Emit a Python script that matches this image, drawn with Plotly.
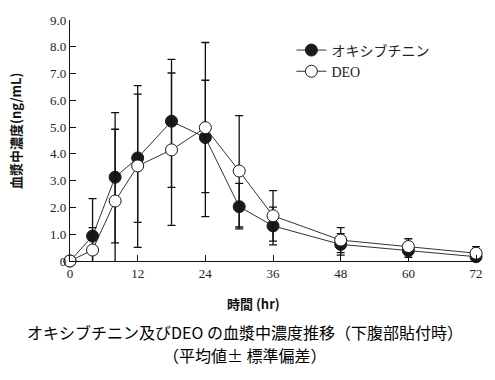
import plotly.graph_objects as go

hours = [0, 4, 8, 12, 18, 24, 30, 36, 48, 60, 72]
oxy_mean = [0, 0.93, 3.13, 3.85, 5.22, 4.61, 2.03, 1.31, 0.62, 0.39, 0.16]
oxy_sd_plus = [0, 1.40, 2.41, 2.38, 2.31, 2.14, 0.87, 0.70, 0.40, 0.25, 0.12]
oxy_sd_minus = [0, 1.40, 2.45, 2.41, 2.47, 2.06, 0.83, 0.71, 0.40, 0.25, 0.12]
deo_mean = [0, 0.41, 2.24, 3.55, 4.15, 4.98, 3.36, 1.69, 0.78, 0.54, 0.29]
deo_sd_plus = [0, 0.84, 2.68, 3.00, 2.87, 3.18, 2.07, 0.94, 0.47, 0.29, 0.25]
deo_sd_minus = [0, 0.84, 2.68, 3.04, 2.82, 3.32, 2.09, 0.95, 0.47, 0.29, 0.25]
y_ticks = [0, 1, 2, 3, 4, 5, 6, 7, 8, 9]
y_tick_labels = ["0", "1.0", "2.0", "3.0", "4.0", "5.0", "6.0", "7.0", "8.0", "9.0"]
x_ticks = [0, 12, 24, 36, 48, 60, 72]

serif = "Liberation Serif, DejaVu Serif, serif"
jp = "Noto Sans CJK JP, sans-serif"

fig = go.Figure()
fig.add_trace(go.Scatter(
    x=hours, y=oxy_mean, name="オキシブチニン", mode="lines+markers",
    line=dict(color="#333333", width=1),
    marker=dict(symbol="circle", size=12, color="#1a1a1a", line=dict(color="#1a1a1a", width=1)),
    error_y=dict(type="data", array=oxy_sd_plus, arrayminus=oxy_sd_minus,
                 color="#111111", thickness=1.3, width=4),
    cliponaxis=False,
))
fig.add_trace(go.Scatter(
    x=hours, y=deo_mean, name="DEO", mode="lines+markers",
    line=dict(color="#333333", width=1),
    marker=dict(symbol="circle", size=12, color="white", line=dict(color="#1a1a1a", width=1)),
    error_y=dict(type="data", array=deo_sd_plus, arrayminus=deo_sd_minus,
                 color="#111111", thickness=1.3, width=4),
    cliponaxis=False,
))

fig.update_layout(
    width=495, height=380,
    margin=dict(l=70, r=15, t=20, b=119),
    paper_bgcolor="white", plot_bgcolor="white",
    showlegend=True,
    legend=dict(x=0.54, y=0.94, xanchor="left", yanchor="top",
                font=dict(family=serif + ", " + jp, size=14, color="#222"),
                bgcolor="rgba(0,0,0,0)", itemwidth=30, tracegroupgap=0),
    xaxis=dict(range=[0, 72.7], tickvals=x_ticks, ticks="inside", ticklen=6,
               tickcolor="#111", showline=True, linecolor="#111", linewidth=1.3,
               showgrid=False, zeroline=False,
               tickfont=dict(family=serif, size=13, color="#222")),
    yaxis=dict(range=[0, 9], tickvals=y_ticks, ticktext=y_tick_labels, ticks="inside",
               ticklen=6, tickcolor="#111", showline=True, linecolor="#111", linewidth=1.3,
               showgrid=False, zeroline=False,
               tickfont=dict(family=serif, size=13, color="#222")),
    font=dict(family=jp, color="#111"),
)

fig.add_annotation(text="<b>血漿中濃度(ng/mL)</b>", xref="paper", yref="paper",
                   x=(15 - 70) / 410, y=(261 - 131) / 241, textangle=-90, showarrow=False,
                   xanchor="center", yanchor="middle",
                   font=dict(family=jp, size=13, color="#111"))
fig.add_annotation(text="<b>時間 (hr)</b>", xref="paper", yref="paper",
                   x=(253 - 70) / 410, y=-(303 - 261) / 241, showarrow=False,
                   xanchor="center", yanchor="middle",
                   font=dict(family=jp, size=13, color="#111"))
fig.add_annotation(text="オキシブチニン及びDEO の血漿中濃度推移（下腹部貼付時）",
                   xref="paper", yref="paper",
                   x=(245 - 70) / 410, y=-(332 - 261) / 241, showarrow=False,
                   xanchor="center", yanchor="middle",
                   font=dict(family=jp, size=16, color="#000"))
fig.add_annotation(text="（平均値± 標準偏差）",
                   xref="paper", yref="paper",
                   x=(245 - 70) / 410, y=-(355 - 261) / 241, showarrow=False,
                   xanchor="center", yanchor="middle",
                   font=dict(family=jp, size=16, color="#000"))

fig.write_html("out.html", config={"displayModeBar": False},
               post_script="document.body.style.margin='0';")
